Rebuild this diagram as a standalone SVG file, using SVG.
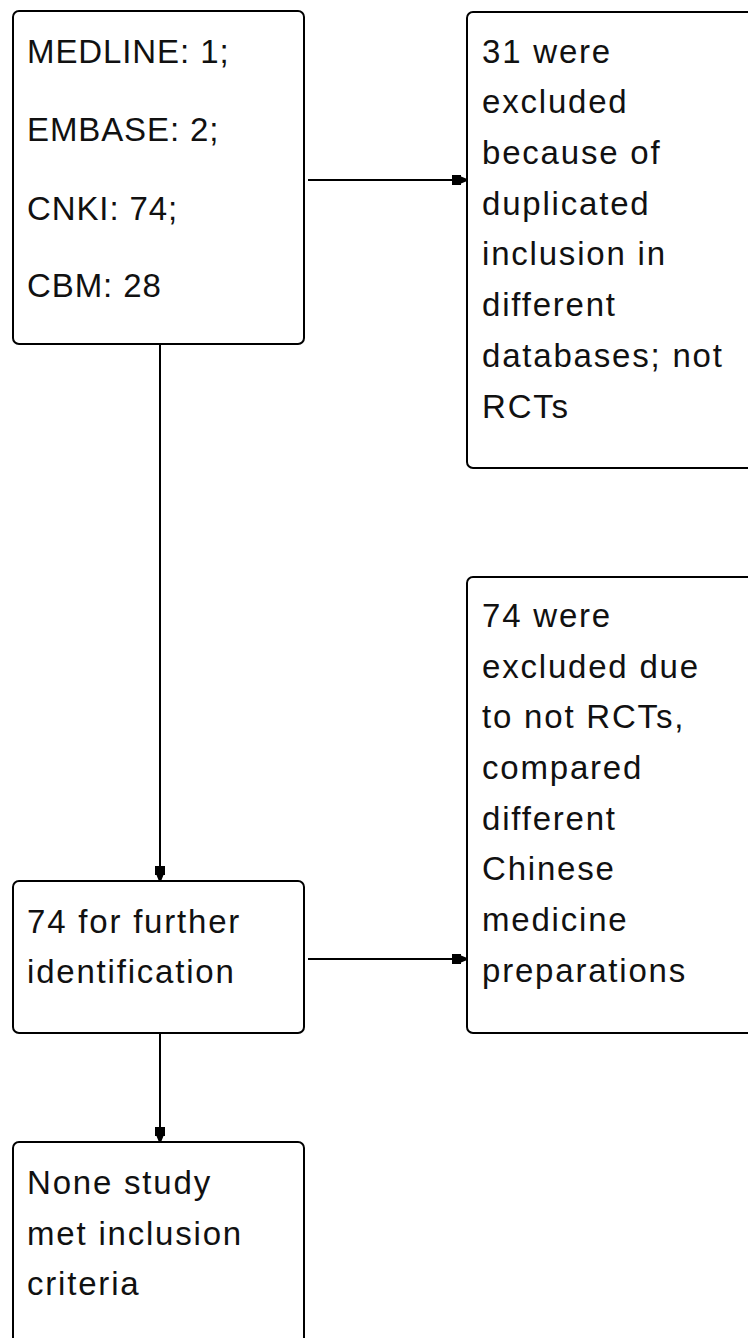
<svg xmlns="http://www.w3.org/2000/svg" width="748" height="1338" viewBox="0 0 748 1338">
<defs>
<style>
.box{fill:#fff;stroke:#000;stroke-width:2}
.t{font-family:"Liberation Sans",Arial,sans-serif;font-size:33px;fill:#111;letter-spacing:1.8px}
.s{letter-spacing:0.9px}
.c{fill:none;stroke:#000;stroke-width:2}
</style>
<marker id="ah" viewBox="0 0 14 12" refX="14" refY="6" markerWidth="14" markerHeight="12" markerUnits="userSpaceOnUse" orient="auto">
<path d="M0,1 L9,1 L9,2.5 L14,4.5 L14,7.5 L9,9.5 L9,11 L0,11 Z" fill="#000"/>
</marker>
</defs>
<rect width="748" height="1338" fill="#fff"/>
<g id="connectors">
<line class="c" x1="160" y1="344" x2="160" y2="880" marker-end="url(#ah)"/>
<line class="c" x1="308" y1="180" x2="466" y2="180" marker-end="url(#ah)"/>
<line class="c" x1="308" y1="959" x2="466" y2="959" marker-end="url(#ah)"/>
<line class="c" x1="160" y1="1033" x2="160" y2="1141" marker-end="url(#ah)"/>
</g>
<g id="sources">
<rect class="box" x="13" y="11" width="291" height="333" rx="6"/>
<text class="t s" x="27" y="63">MEDLINE: 1;</text>
<text class="t s" x="27" y="141">EMBASE: 2;</text>
<text class="t s" x="27" y="220">CNKI: 74;</text>
<text class="t s" x="27" y="297">CBM: 28</text>
</g>
<g id="excluded1">
<rect class="box" x="467" y="12" width="320" height="456" rx="6"/>
<text class="t" x="482" y="63">31 were</text>
<text class="t" x="482" y="113">excluded</text>
<text class="t" x="482" y="164">because of</text>
<text class="t" x="482" y="215">duplicated</text>
<text class="t" x="482" y="265">inclusion in</text>
<text class="t" x="482" y="316">different</text>
<text class="t" x="482" y="367">databases; not</text>
<text class="t" x="482" y="418">RCTs</text>
</g>
<g id="excluded2">
<rect class="box" x="467" y="577" width="320" height="456" rx="6"/>
<text class="t" x="482" y="627">74 were</text>
<text class="t" x="482" y="678">excluded due</text>
<text class="t" x="482" y="728">to not RCTs,</text>
<text class="t" x="482" y="779">compared</text>
<text class="t" x="482" y="830">different</text>
<text class="t" x="482" y="880">Chinese</text>
<text class="t" x="482" y="931">medicine</text>
<text class="t" x="482" y="982">preparations</text>
</g>
<g id="further">
<rect class="box" x="13" y="881" width="291" height="152" rx="6"/>
<text class="t" x="27" y="933">74 for further</text>
<text class="t" x="27" y="983">identification</text>
</g>
<g id="none">
<rect class="box" x="13" y="1142" width="291" height="240" rx="6"/>
<text class="t" x="27" y="1194">None study</text>
<text class="t" x="27" y="1245">met inclusion</text>
<text class="t" x="27" y="1295">criteria</text>
</g>
</svg>
